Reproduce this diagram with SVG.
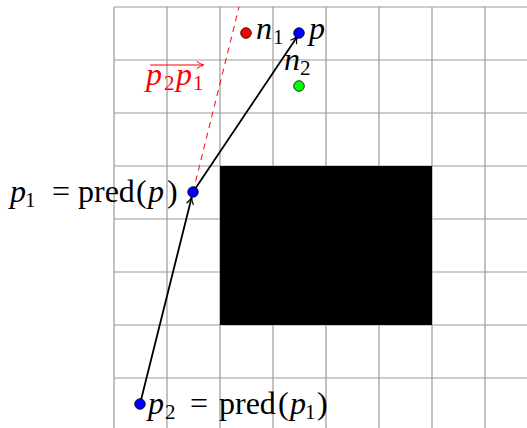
<svg xmlns="http://www.w3.org/2000/svg" width="527" height="428" viewBox="0 0 527 428">
<defs>
<style>
.grid{stroke:#999;stroke-width:1.2;fill:none}
.edge{stroke:#000;stroke-width:1.8;fill:none}
.t{font-family:"Liberation Serif","DejaVu Serif",serif;font-size:32px;fill:#000}
.i{font-style:italic}
.s{font-size:21px;font-style:normal}
.dot{stroke:#000;stroke-width:0.8}
.red{fill:#f00}
</style>
<marker id="ah" viewBox="0 0 10 10" refX="8" refY="5" markerWidth="9" markerHeight="9" markerUnits="userSpaceOnUse" orient="auto">
<path d="M1,1 Q5,4 9,5 Q5,6 1,9" fill="none" stroke="#000" stroke-width="1.3"/>
</marker>
<marker id="ahr" viewBox="0 0 10 10" refX="8" refY="5" markerWidth="9" markerHeight="9" markerUnits="userSpaceOnUse" orient="auto">
<path d="M1,1 Q5,4 9,5 Q5,6 1,9" fill="none" stroke="#f00" stroke-width="1.1"/>
</marker>
</defs>
<rect width="527" height="428" fill="#fff"/>
<g id="grid" class="grid">
<path d="M114,7V428M167,7V428M220,7V428M273,7V428M326,7V428M379,7V428M432,7V428M485,7V428"/>
<path d="M114,7H527M114,60H527M114,113H527M114,166H527M114,219H527M114,272H527M114,325H527M114,378H527"/>
</g>
<g id="obstacle"><rect x="220" y="166" width="212" height="159" fill="#000"/></g>
<g id="connectors">
<line x1="193" y1="192" x2="239" y2="7" stroke="#f00" stroke-width="1" stroke-dasharray="6,5"/>
<line class="edge" x1="140" y1="404" x2="191.5" y2="198" marker-end="url(#ah)"/>
<line class="edge" x1="193" y1="192" x2="297" y2="37" marker-end="url(#ah)"/>
</g>
<g id="n1"><circle class="dot" cx="246" cy="33" r="5.3" fill="#f00"/>
<text class="t" x="256" y="39"><tspan class="i">n</tspan><tspan class="s" x="273" dy="5">1</tspan></text></g>
<g id="p"><circle class="dot" cx="299" cy="33" r="5.3" fill="#00f"/>
<text class="t i" x="309" y="39">p</text></g>
<g id="n2"><circle class="dot" cx="299" cy="86" r="5.3" fill="#0f0"/>
<text class="t" x="284" y="70"><tspan class="i">n</tspan><tspan class="s" x="300" dy="5">2</tspan></text></g>
<g id="p1"><circle class="dot" cx="193" cy="192" r="5.3" fill="#00f"/>
<text class="t" y="202"><tspan class="i" x="10">p</tspan><tspan class="s" x="25" dy="5">1</tspan><tspan x="52" dy="-5">=</tspan><tspan x="78">pred</tspan><tspan x="136">(</tspan><tspan class="i" x="148">p</tspan><tspan x="167">)</tspan></text></g>
<g id="p2"><circle class="dot" cx="140" cy="404" r="5.3" fill="#00f"/>
<text class="t" y="414"><tspan class="i" x="148">p</tspan><tspan class="s" x="165" dy="5">2</tspan><tspan x="190" dy="-5">=</tspan><tspan x="219">pred</tspan><tspan x="278">(</tspan><tspan class="i" x="290">p</tspan><tspan class="s" x="305" dy="5">1</tspan><tspan x="317" dy="-5">)</tspan></text></g>
<g id="vector-label">
<line x1="150" y1="65" x2="203" y2="65" stroke="#f00" stroke-width="1.1" marker-end="url(#ahr)"/>
<text class="t red" y="85"><tspan class="i" x="146">p</tspan><tspan class="s" x="164" dy="5">2</tspan><tspan class="i" x="176" dy="-5">p</tspan><tspan class="s" x="193" dy="5">1</tspan></text>
</g>
</svg>
